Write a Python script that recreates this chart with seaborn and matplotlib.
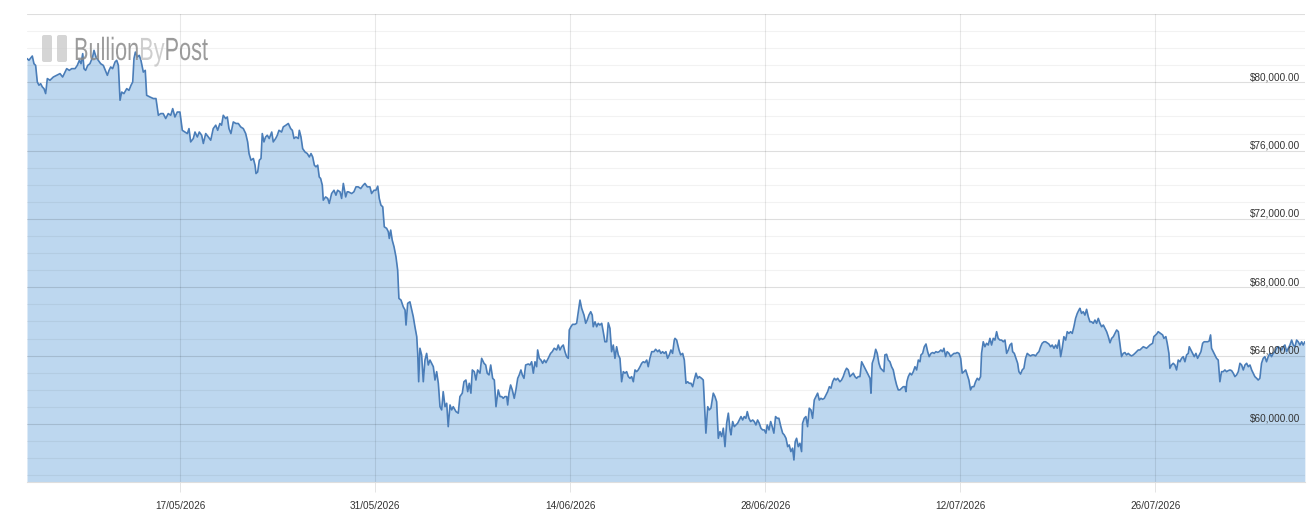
import pandas as pd
import matplotlib
matplotlib.use("Agg")
import matplotlib.pyplot as plt
import matplotlib.dates as mdates
import seaborn as sns
from matplotlib.textpath import TextPath, text_to_path
from matplotlib.patches import PathPatch, FancyBboxPatch
from matplotlib.font_manager import FontProperties
from matplotlib.transforms import Affine2D

# Price series: days since 06/05/2026 and USD price
start_date = "2026-05-06"

days = [
    # early May
    0.00, 0.14, 0.38, 0.50, 0.62, 0.74, 0.86, 0.98, 1.10, 1.22,
    1.34, 1.46, 1.65, 1.89, 2.13, 2.37, 2.56, 2.73, 2.85, 3.04,
    3.21, 3.45, 3.61, 3.76, 3.88, 4.00, 4.09, 4.21, 4.36, 4.52,
    4.71, 4.81, 4.95, 5.12, 5.29, 5.48, 5.67, 5.77, 5.89, 6.01,
    6.15, 6.32, 6.44, 6.56, 6.68, 6.80, 6.96, 7.16, 7.32, 7.47,
    7.59, 7.68, 7.78, 7.92, 8.06, 8.18, 8.35, 8.49, 8.59, 8.83,
    9.07, 9.26, 9.43, 9.60, 9.78, 9.96, 10.14, 10.32, 10.46, 10.62,
    10.79, 10.98, 11.15,
    # mid/late May
    11.34, 11.51, 11.63, 11.75, 11.94, 12.06, 12.23, 12.37, 12.54, 12.66,
    12.83, 13.02, 13.19, 13.37, 13.55, 13.69, 13.85, 13.97, 14.09, 14.26,
    14.38, 14.50, 14.64, 14.81, 15.00, 15.17, 15.34, 15.53, 15.70, 15.84,
    15.94, 16.08, 16.25, 16.37, 16.44, 16.56, 16.68, 16.80, 16.89, 17.01,
    17.13, 17.25, 17.39, 17.57, 17.68, 17.85, 17.97, 18.09, 18.28, 18.40,
    18.59, 18.76, 18.93, 19.05, 19.17, 19.31, 19.48, 19.55, 19.67, 19.79,
    19.96, 20.12, 20.27, 20.39, 20.51, 20.63, 20.75, 20.87, 20.98, 21.08,
    21.20, 21.27, 21.44, 21.59, 21.70, 21.87, 22.04, 22.18, 22.30, 22.47,
    22.59, 22.71, 22.88, 22.99,
    # end of May, the slide
    23.07, 23.31, 23.47, 23.62, 23.78, 23.96, 24.14, 24.26, 24.43, 24.62,
    24.74, 24.91, 25.05, 25.18, 25.29, 25.41, 25.54, 25.65, 25.82, 25.94,
    26.01, 26.11, 26.22, 26.35, 26.49, 26.61, 26.70, 26.85, 27.01, 27.14,
    27.21, 27.33, 27.49, 27.62, 27.73, 27.85, 27.98, 28.05, 28.12, 28.21,
    28.33, 28.45, 28.57, 28.69, 28.81, 28.93, 29.05, 29.17, 29.29, 29.41,
    29.53, 29.65, 29.77, 29.88, 30.01, 30.13, 30.24, 30.37, 30.49, 30.60,
    30.80, 30.96, 31.08, 31.25, 31.37, 31.51, 31.64, 31.75, 31.87, 31.97,
    32.11, 32.23, 32.35, 32.52, 32.64, 32.81, 32.93, 33.04, 33.17, 33.29,
    33.43, 33.55, 33.67, 33.83, 33.96, 34.08, 34.19, 34.31,
    # June
    34.44, 34.51, 34.60, 34.72, 34.84, 34.98, 35.10, 35.23, 35.34, 35.46,
    35.56, 35.68, 35.80, 35.99, 36.11, 36.23, 36.35, 36.47, 36.59, 36.66,
    36.78, 36.90, 37.02, 37.14, 37.26, 37.42, 37.59, 37.71, 37.85, 38.03,
    38.14, 38.26, 38.38, 38.50, 38.62, 38.74, 38.86, 38.93, 39.05, 39.17,
    39.34, 39.46, 39.58, 39.70, 39.82, 39.99, 40.11, 40.22, 40.34, 40.47,
    40.58, 40.65, 40.78, 40.90, 41.01, 41.13, 41.26, 41.37, 41.49, 41.62,
    41.73, 41.85, 41.97, 42.09, 42.21, 42.33, 42.45, 42.57, 42.69, 42.81,
    42.93, 43.05, 43.17, 43.29, 43.41, 43.53, 43.65, 43.77, 43.88, 44.01,
    44.13, 44.24, 44.36, 44.49, 44.60, 44.72, 44.85, 45.01, 45.13, 45.28,
    45.39, 45.51, 45.63, 45.75, 45.87, 45.99, 46.11, 46.23, 46.35, 46.47,
    # late June
    46.52, 46.64, 46.81, 46.93, 47.07, 47.19, 47.31, 47.43, 47.54, 47.67,
    47.79, 47.90, 48.03, 48.15, 48.26, 48.43, 48.55, 48.62, 48.74, 48.87,
    48.98, 49.10, 49.27, 49.39, 49.51, 49.63, 49.75, 49.87, 49.99, 50.11,
    50.23, 50.35, 50.47, 50.54, 50.66, 50.78, 50.90, 51.02, 51.14, 51.26,
    51.38, 51.49, 51.61, 51.71, 51.83, 51.95, 52.10, 52.21, 52.33, 52.45,
    52.57, 52.69, 52.81, 52.93, 53.05, 53.14, 53.27, 53.39, 53.50, 53.62,
    53.74, 53.86, 53.98, 54.12, 54.25, 54.36, 54.49, 54.61, 54.72, 54.84,
    54.96, 55.06, 55.15, 55.25, 55.37, 55.49, 55.61, 55.68, 55.80, 55.92,
    56.04, 56.16, 56.28, 56.40, 56.52, 56.64, 56.76, 56.88, 57.00, 57.12,
    57.24, 57.36, 57.48, 57.60, 57.72, 57.84, 57.96, 58.08, 58.20,
    # July
    58.36, 58.48, 58.60, 58.72, 58.84, 58.96, 59.08, 59.20, 59.32, 59.44,
    59.56, 59.68, 59.80, 59.92, 60.04, 60.16, 60.28, 60.40, 60.52, 60.59,
    60.68, 60.80, 60.93, 61.04, 61.16, 61.28, 61.40, 61.52, 61.59, 61.71,
    61.83, 61.95, 62.07, 62.19, 62.31, 62.43, 62.55, 62.67, 62.79, 62.91,
    63.03, 63.10, 63.17, 63.27, 63.39, 63.51, 63.63, 63.75, 63.87, 63.99,
    64.11, 64.18, 64.30, 64.42, 64.54, 64.66, 64.77, 64.90, 65.02, 65.13,
    65.25, 65.38, 65.49, 65.61, 65.73, 65.83, 65.95, 66.06, 66.19, 66.31,
    66.42, 66.55, 66.67, 66.78, 66.91, 67.03, 67.14, 67.27, 67.39, 67.50,
    67.62, 67.74, 67.85, 67.98, 68.10, 68.22, 68.34, 68.46, 68.53, 68.65,
    68.77, 68.89, 69.01, 69.13, 69.25, 69.37, 69.49, 69.61, 69.72, 69.85,
    # mid/late July
    69.97, 70.09, 70.21, 70.33, 70.45, 70.57, 70.69, 70.76, 70.88, 71.00,
    71.12, 71.21, 71.33, 71.45, 71.57, 71.69, 71.81, 71.93, 72.05, 72.17,
    72.29, 72.41, 72.53, 72.65, 72.77, 72.88, 73.01, 73.13, 73.24, 73.36,
    73.49, 73.60, 73.73, 73.85, 73.96, 74.09, 74.21, 74.32, 74.44, 74.57,
    74.68, 74.80, 74.92, 75.04, 75.16, 75.28, 75.40, 75.52, 75.59, 75.71,
    75.83, 75.95, 76.07, 76.19, 76.31, 76.43, 76.55, 76.67, 76.79, 76.91,
    77.03, 77.15, 77.27, 77.39, 77.51, 77.63, 77.75, 77.87, 77.99, 78.11,
    78.23, 78.35, 78.46, 78.58, 78.70, 78.82, 78.94, 79.06, 79.18, 79.30,
    79.42, 79.54, 79.66, 79.78, 79.90,
    # end of July / early August
    80.14, 80.38, 80.62, 80.81, 80.90, 81.10, 81.21, 81.38, 81.53, 81.62,
    81.76, 81.86, 81.98, 82.05, 82.17, 82.29, 82.41, 82.53, 82.65, 82.77,
    82.89, 83.01, 83.13, 83.25, 83.37, 83.44, 83.56, 83.68, 83.80, 83.92,
    84.04, 84.16, 84.28, 84.40, 84.51, 84.64, 84.76, 84.87, 84.97, 85.04,
    85.16, 85.28, 85.40, 85.52, 85.64, 85.76, 85.88, 86.00, 86.12, 86.24,
    86.36, 86.48, 86.60, 86.72, 86.84, 86.96, 87.08, 87.20, 87.32, 87.44,
    87.56, 87.68, 87.80, 87.92, 88.03, 88.15, 88.28, 88.39, 88.51, 88.63,
    88.75, 88.87, 88.99, 89.11, 89.23, 89.35, 89.47, 89.59, 89.71, 89.83,
    89.95, 90.07, 90.19, 90.31, 90.43, 90.55, 90.67, 90.79, 90.91, 91.03,
    91.15, 91.26, 91.39, 91.51, 91.62, 91.74,
]

price = [
    # early May
    81390, 81290, 81540, 81090, 80990, 80020, 79830, 79920, 79730, 79630,
    79340, 80220, 80120, 80310, 80410, 80510, 80310, 80600, 80800, 80700,
    80800, 80800, 80990, 81290, 81090, 81680, 80800, 80700, 80990, 81090,
    81480, 81870, 81480, 81290, 81090, 80990, 80600, 80410, 80700, 80900,
    80800, 81190, 81290, 80990, 78950, 79430, 79340, 79630, 79530, 79830,
    80020, 81390, 81770, 81480, 81580, 81290, 80600, 80700, 79240, 79140,
    79050, 79050, 78070, 78170, 78170, 77880, 78170, 78070, 78460, 77970,
    78260, 78260, 77190,
    # mid/late May
    77090, 77000, 77290, 76510, 76710, 77090, 76800, 77090, 76900, 76420,
    77000, 76800, 76610, 77290, 77490, 77190, 77590, 77490, 78070, 77880,
    77970, 77290, 77000, 77680, 77590, 77590, 77390, 77290, 77000, 76510,
    75830, 75440, 75540, 75150, 74660, 74750, 75440, 75540, 77000, 76510,
    76800, 76900, 76710, 77090, 76510, 76710, 76900, 77190, 77090, 77390,
    77490, 77590, 77290, 77190, 76710, 76800, 76710, 77190, 76800, 76120,
    75920, 75830, 75630, 75830, 75630, 75150, 75050, 75150, 74460, 74370,
    73980, 73100, 73290, 73200, 72910, 73490, 73680, 73390, 73680, 73590,
    73200, 74080, 73290, 73590,
    # end of May, the slide
    73590, 73490, 73590, 73880, 73880, 73780, 73980, 74080, 73880, 73880,
    73490, 73680, 73680, 73920, 73200, 72810, 72710, 71540, 71450, 71250,
    70860, 71350, 70760, 70370, 69780, 69010, 67350, 67250, 66860, 66670,
    65790, 67060, 67150, 66670, 66280, 65690, 65110, 64130, 62470, 64430,
    64040, 62470, 63740, 64130, 63450, 63740, 63550, 63350, 62570, 63060,
    62380, 61010, 60820, 61890, 61010, 61210, 59840, 61110, 60820, 61010,
    60720, 60630, 61600, 61800, 62470, 62570, 61890, 62380, 61800, 63160,
    63060, 62570, 63160, 62970, 63840, 63550, 63450, 62970, 62870, 63450,
    62670, 62570, 61010, 61990, 61600, 61600, 61500, 61600,
    # June
    61600, 61110, 61800, 62280, 61990, 61500, 61990, 62670, 62870, 63160,
    62870, 62670, 63450, 63510, 63450, 63640, 62970, 63640, 63350, 64330,
    63840, 63740, 63550, 63740, 63590, 63840, 64130, 64230, 64430, 64330,
    64620, 64330, 64520, 64620, 64230, 63940, 63840, 65500, 65690, 65830,
    65830, 65890, 66570, 67250, 66770, 66370, 65890, 66080, 66370, 66570,
    66370, 65690, 65980, 65690, 65890, 65790, 65890, 65400, 64810, 64810,
    65920, 65600, 64230, 64620, 63840, 64520, 64040, 63840, 62470, 63060,
    62970, 63060, 62770, 62670, 62770, 62470, 63160, 63060, 63160, 63350,
    63550, 63640, 63590, 63740, 63350, 63840, 64230, 64230, 64370, 64230,
    64330, 64130, 64230, 64130, 64230, 63840, 64040, 64330, 64130, 64910,
    # late June
    65010, 64910, 64330, 64040, 64130, 63740, 62380, 62470, 62380, 62380,
    62180, 62570, 62970, 62670, 62770, 62670, 62570, 61400, 59460, 61010,
    60820, 60920, 61800, 61600, 61300, 59160, 59550, 59260, 59750, 58670,
    60040, 60630, 59650, 59360, 60140, 59840, 59940, 60040, 60230, 60430,
    60230, 60430, 60330, 60720, 60330, 60140, 60230, 60140, 59940, 60230,
    60040, 59750, 59650, 59650, 59460, 59940, 59650, 60140, 59840, 59460,
    60430, 60330, 60330, 59840, 59460, 59360, 59160, 58670, 58770, 58380,
    58580, 57890, 58960, 59160, 58670, 58870, 58380, 60040, 60330, 60430,
    59840, 60920, 60820, 60330, 61400, 61600, 61800, 61400, 61500, 61440,
    61500, 61700, 61890, 62180, 62090, 62470, 62670, 62570, 62670,
    # July
    62470, 62570, 62770, 63060, 63260, 63160, 62770, 62870, 62970, 62770,
    62670, 62770, 62770, 63640, 63450, 63260, 63060, 62870, 62670, 61800,
    63550, 63840, 64370, 64130, 63550, 63260, 63160, 63060, 64040, 64080,
    63740, 63640, 63350, 63160, 62670, 62280, 61990, 61990, 62090, 62180,
    62180, 61890, 62470, 62770, 62970, 62870, 63060, 63350, 63160, 63740,
    63640, 64040, 64130, 64520, 64680, 64230, 63940, 64130, 64180, 64130,
    64230, 64190, 64230, 64330, 64230, 64430, 63940, 64230, 64130, 63940,
    64040, 64130, 64130, 64180, 64130, 63840, 62970, 63060, 63160, 62870,
    62570, 61990, 62180, 62180, 62470, 62670, 62570, 62770, 64130, 64810,
    64520, 64720, 64620, 65010, 64620, 65010, 64910, 65400, 65010, 64910,
    # mid/late July
    64910, 64810, 64910, 64130, 64330, 64620, 64720, 64230, 64130, 63840,
    63550, 63060, 62920, 63160, 63260, 63840, 64130, 64040, 63980, 64040,
    64040, 63980, 64130, 64230, 64520, 64720, 64810, 64810, 64750, 64680,
    64520, 64620, 64430, 64620, 64430, 64910, 63940, 64430, 65110, 64910,
    65400, 65300, 65400, 65300, 65690, 66180, 66470, 66670, 66770, 66470,
    66570, 66370, 66710, 66280, 65980, 65980, 65890, 66080, 65890, 66180,
    65890, 65690, 65790, 65600, 65400, 65110, 64750, 65010, 65110, 65300,
    65500, 65400, 64720, 63940, 64130, 64180, 64040, 64130, 64040, 63980,
    64040, 64130, 64230, 64330, 64330,
    # end of July / early August
    64520, 64430, 64620, 64720, 65110, 65260, 65400, 65300, 65210, 65010,
    65110, 64720, 64130, 63260, 63450, 63550, 63450, 63160, 63740, 63640,
    63840, 63940, 63640, 64040, 64130, 64520, 64330, 64130, 63940, 64130,
    63840, 64040, 64230, 64720, 64810, 64810, 64810, 64850, 65210, 64430,
    64230, 64040, 63840, 63740, 62470, 63060, 63060, 63160, 63060, 63120,
    63160, 63120, 62970, 62770, 62870, 63060, 63550, 63450, 63160, 63450,
    63550, 63350, 63450, 63160, 62970, 62770, 62670, 62570, 62670, 63550,
    63840, 63940, 63640, 63940, 64130, 63940, 64130, 64230, 64430, 64520,
    64430, 64330, 64520, 64620, 64230, 64430, 64620, 64910, 64620, 64520,
    64910, 64810, 64620, 64810, 64620, 64810,
]

tick_dates = ["2026-05-17", "2026-05-31", "2026-06-14",
              "2026-06-28", "2026-07-12", "2026-07-26"]
y_ticks = [60000, 64000, 68000, 72000, 76000, 80000]
y_min, y_max = 56600, 84000
x_span_days = 91.75

assert len(days) == len(price), (len(days), len(price))

sns.set_theme(style="white")
plt.rcParams["font.family"] = ["Liberation Sans", "DejaVu Sans"]

t0 = pd.Timestamp(start_date)
df = pd.DataFrame({
    "date": t0 + pd.to_timedelta(days, unit="D"),
    "price": price,
})

fig = plt.figure(figsize=(13.16, 5.29), dpi=100)
ax = fig.add_axes([27 / 1316, 47 / 529, 1278 / 1316, 468 / 529])

line_color = "#4a7db8"
fill_color = "#bdd7ef"

ax.fill_between(df["date"], df["price"], y_min, color=fill_color, lw=0, zorder=1)
sns.lineplot(data=df, x="date", y="price", color=line_color, linewidth=1.2,
             estimator=None, sort=False, ax=ax, zorder=3)

ax.set_xlim(t0, t0 + pd.Timedelta(days=x_span_days))
ax.set_ylim(y_min, y_max)

# grid: major every 4000, minor every 1000, vertical lines at the date ticks
ax.set_yticks(y_ticks + [84000])
ax.yaxis.set_minor_locator(plt.MultipleLocator(1000))
ax.set_xticks(pd.to_datetime(tick_dates))
ax.xaxis.set_major_formatter(mdates.DateFormatter("%d/%m/%Y"))
ax.set_axisbelow("line")
ax.grid(axis="y", which="major", color="black", alpha=0.13, lw=0.8)
ax.grid(axis="y", which="minor", color="black", alpha=0.05, lw=0.8)
ax.grid(axis="x", which="major", color="black", alpha=0.09, lw=0.8)

ax.tick_params(axis="y", which="both", left=False, right=False,
               labelleft=False, labelright=False)
ax.tick_params(axis="x", which="major", bottom=True, length=7.2, width=0.7,
               color="#e4e4e4", pad=6.5, labelsize=7.2, labelcolor="#333333")
ax.set_xlabel("")
ax.set_ylabel("")

for side in ["left", "right", "top"]:
    ax.spines[side].set_visible(False)
ax.spines["bottom"].set_color("#dedede")
ax.spines["bottom"].set_linewidth(0.8)

# price labels sit inside the plot, right aligned, just above each gridline
for v in y_ticks:
    ax.text(0.996, v, f"${v:,.2f}", transform=ax.get_yaxis_transform(),
            ha="right", va="bottom", fontsize=7.2, color="#333333", zorder=5)

# watermark logo (two bars + condensed wordmark)
for bx in [42, 57]:
    bar = FancyBboxPatch((bx / 100, (529 - 62) / 100), 0.10, 0.27,
                         boxstyle="round,pad=0,rounding_size=0.02",
                         transform=fig.dpi_scale_trans, facecolor="#c8c8c8",
                         edgecolor="none", alpha=0.75, zorder=10)
    fig.add_artist(bar)

S = 100
fp = FontProperties(family="Liberation Sans", size=S)
parts = [("Bullion", "#8a8a8a"), ("By", "#c6c6c6"), ("Post", "#8a8a8a")]
full_w = text_to_path.get_text_width_height_descent("BullionByPost", fp, ismath=False)[0]
sx = 134 / full_w
sy = 23 / (0.716 * S)
xoff = 0.0
for txt, col in parts:
    tp = TextPath((0, 0), txt, prop=fp)
    tr = (Affine2D().translate(xoff, 0).scale(sx / 100, sy / 100)
          .translate(74 / 100, (529 - 60) / 100) + fig.dpi_scale_trans)
    fig.add_artist(PathPatch(tp, transform=tr, facecolor=col, edgecolor="none",
                             alpha=0.85, zorder=10))
    xoff += text_to_path.get_text_width_height_descent(txt, fp, ismath=False)[0]

fig.savefig("out.png", dpi=100)
